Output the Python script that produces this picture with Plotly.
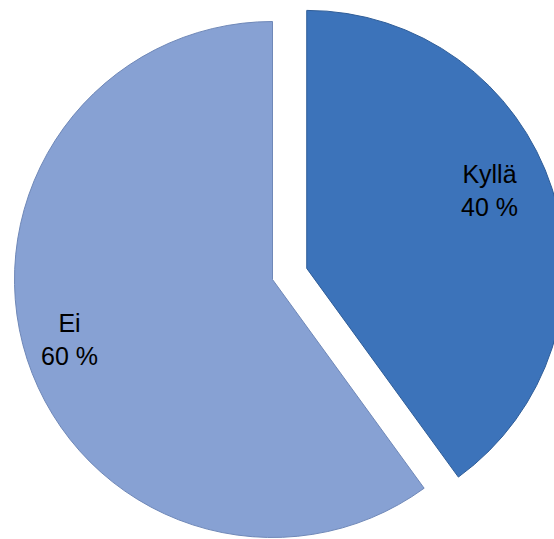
import math
import plotly.graph_objects as go

# Survey answers
labels = ["Kyllä", "Ei"]
values = [40, 60]

# Styling
colors = ["#3C73BA", "#87A1D3"]
edge_colors = ["#2F5D98", "#6F88B8"]
FONT = "Liberation Sans, Arial, sans-serif"

# Canvas and pie geometry (pixels)
W, H = 574, 539
CX, CY = 272.5, 279.5      # centre of the main pie
R = 258                    # pie radius
PULL_PX = 36               # how far the first slice is pulled out
LABEL_POS = [(67.0, 0.77), (253.5, 0.82)]  # (angle from 12 o'clock, fraction of R)

total = sum(values)
# bisector angles (clockwise from 12 o'clock) of each slice
bisectors = []
acc = 0
for v in values:
    bisectors.append((acc + v / 2) / total * 360)
    acc += v


def domain_for(cx, cy):
    return dict(x=[(cx - R) / W, (cx + R) / W],
                y=[1 - (cy + R) / H, 1 - (cy - R) / H])


centers = []
for i, b in enumerate(bisectors):
    off = PULL_PX if i == 0 else 0
    a = math.radians(b)
    centers.append((CX + off * math.sin(a), CY - off * math.cos(a)))

fig = go.Figure()
for i in range(len(values)):
    cols = ["rgba(0,0,0,0)"] * len(values)
    lcols = ["rgba(0,0,0,0)"] * len(values)
    cols[i] = colors[i]
    lcols[i] = edge_colors[i]
    fig.add_trace(go.Pie(
        labels=labels, values=values, sort=False, direction="clockwise",
        rotation=0, domain=domain_for(*centers[i]),
        marker=dict(colors=cols, line=dict(color=lcols, width=1)),
        textinfo="none", hoverinfo="skip", showlegend=False,
    ))

for i, (lab, v) in enumerate(zip(labels, values)):
    ang, frac = LABEL_POS[i]
    a = math.radians(ang)
    cx, cy = centers[i]
    px = cx + frac * R * math.sin(a)
    py = cy - frac * R * math.cos(a)
    fig.add_annotation(
        x=px / W, y=1 - py / H, xref="paper", yref="paper",
        text=f"{lab}<br>{round(v / total * 100)} %", showarrow=False,
        font=dict(family=FONT, size=25, color="black"),
        align="center", xanchor="center", yanchor="middle",
    )

fig.update_layout(
    width=W, height=H, margin=dict(l=0, r=0, t=0, b=0, pad=0),
    paper_bgcolor="white", plot_bgcolor="white",
)

fig.write_html(
    "out.html",
    post_script="document.body.style.margin='0';"
                "document.body.style.overflow='hidden';"
                "document.documentElement.style.overflow='hidden';",
)
